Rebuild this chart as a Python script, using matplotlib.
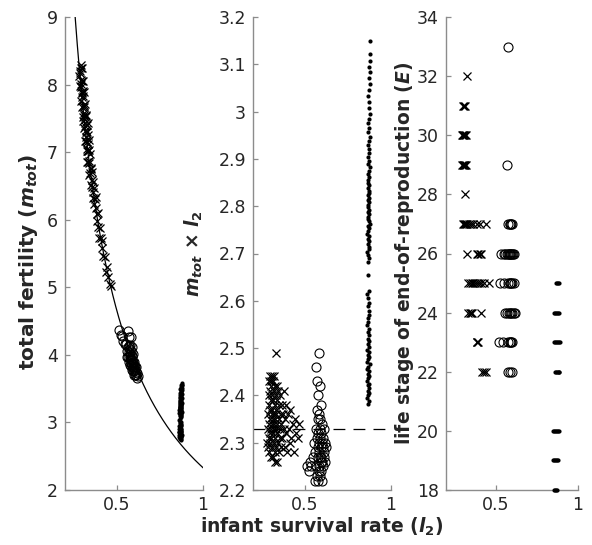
import matplotlib
matplotlib.use("Agg")
import matplotlib.pyplot as plt
import numpy as np
from matplotlib.ticker import FuncFormatter, FixedLocator

# ---------------- data ----------------
mprod_ref = 2.33  # threshold m_tot x l2

# crosses: infant survival l2 and m_tot*l2
cross_l2 = [0.283, 0.285, 0.287, 0.288, 0.290, 0.291, 0.292, 0.293, 0.294, 0.295,
            0.296, 0.297, 0.298, 0.299, 0.300, 0.301, 0.302, 0.303, 0.304, 0.305,
            0.306, 0.307, 0.308, 0.309, 0.310, 0.311, 0.312, 0.313, 0.314, 0.315,
            0.316, 0.317, 0.318, 0.319, 0.320, 0.321, 0.322, 0.323, 0.324, 0.325,
            0.326, 0.327, 0.328, 0.329, 0.330, 0.331, 0.332, 0.333, 0.334, 0.335,
            0.336, 0.337, 0.338, 0.339, 0.340, 0.342, 0.344, 0.346, 0.348, 0.350,
            0.352, 0.354, 0.356, 0.358, 0.360, 0.362, 0.365, 0.368, 0.371, 0.374,
            0.377, 0.380, 0.383, 0.386, 0.390, 0.394, 0.398, 0.402, 0.407, 0.412,
            0.417, 0.423, 0.429, 0.436, 0.443, 0.450, 0.458, 0.466]
cross_mp = [2.30, 2.33, 2.29, 2.36, 2.31, 2.40, 2.34, 2.43, 2.28, 2.38,
            2.44, 2.32, 2.35, 2.41, 2.30, 2.37, 2.43, 2.33, 2.27, 2.39,
            2.42, 2.31, 2.36, 2.44, 2.34, 2.29, 2.40, 2.37, 2.32, 2.43,
            2.35, 2.27, 2.39, 2.33, 2.41, 2.30, 2.36, 2.44, 2.34, 2.28,
            2.38, 2.42, 2.31, 2.35, 2.26, 2.40, 2.33, 2.37, 2.29, 2.49,
            2.36, 2.42, 2.32, 2.26, 2.39, 2.34, 2.30, 2.41, 2.35, 2.28,
            2.38, 2.33, 2.31, 2.40, 2.36, 2.29, 2.34, 2.38, 2.31, 2.36,
            2.33, 2.41, 2.29, 2.35, 2.38, 2.32, 2.28, 2.36, 2.33, 2.30,
            2.37, 2.31, 2.34, 2.28, 2.35, 2.32, 2.31, 2.34]

# circles
circ_l2 = [0.515, 0.522, 0.528, 0.535, 0.545, 0.552, 0.560, 0.562, 0.565, 0.567,
           0.568, 0.570, 0.571, 0.572, 0.573, 0.574, 0.575, 0.576, 0.577, 0.578,
           0.579, 0.580, 0.581, 0.582, 0.583, 0.584, 0.585, 0.586, 0.587, 0.588,
           0.589, 0.590, 0.591, 0.592, 0.593, 0.594, 0.595, 0.596, 0.597, 0.598,
           0.599, 0.600, 0.601, 0.603, 0.605, 0.607, 0.609, 0.611, 0.613, 0.616,
           0.619, 0.622]
circ_mp = [2.25, 2.24, 2.26, 2.25, 2.27, 2.30, 2.22, 2.28, 2.46, 2.33,
           2.25, 2.43, 2.31, 2.23, 2.37, 2.27, 2.35, 2.29, 2.22, 2.40,
           2.32, 2.25, 2.36, 2.28, 2.49, 2.30, 2.24, 2.33, 2.27, 2.42,
           2.31, 2.23, 2.35, 2.26, 2.29, 2.38, 2.32, 2.24, 2.27, 2.30,
           2.22, 2.34, 2.26, 2.29, 2.31, 2.25, 2.28, 2.33, 2.27, 2.30,
           2.26, 2.29]

# dots
dot_l2 = [0.866, 0.872, 0.861, 0.869, 0.875, 0.864, 0.870, 0.867, 0.873, 0.862,
          0.868, 0.874, 0.865, 0.871, 0.860, 0.868, 0.876, 0.863, 0.869, 0.872,
          0.866, 0.874, 0.862, 0.870, 0.867, 0.875, 0.864, 0.871, 0.868, 0.873,
          0.863, 0.869, 0.866, 0.874, 0.870, 0.865, 0.872, 0.868, 0.862, 0.871,
          0.869,
          0.866, 0.873, 0.868, 0.862, 0.871, 0.875, 0.865, 0.870, 0.867, 0.874,
          0.863, 0.869, 0.872, 0.866, 0.876, 0.870, 0.864, 0.868, 0.873, 0.867,
          0.871, 0.865, 0.869, 0.874, 0.868, 0.872, 0.866, 0.870, 0.875, 0.867,
          0.871, 0.864, 0.869, 0.873, 0.866, 0.870, 0.876, 0.868, 0.872, 0.865,
          0.870, 0.874, 0.867, 0.871, 0.877, 0.869, 0.873, 0.866, 0.872, 0.876,
          0.870, 0.875, 0.868, 0.874, 0.879, 0.872, 0.877, 0.870, 0.876, 0.880,
          0.878]
dot_mp = [2.381, 2.388, 2.394, 2.401, 2.405, 2.410, 2.416, 2.421, 2.425, 2.431,
          2.436, 2.440, 2.446, 2.451, 2.455, 2.461, 2.466, 2.470, 2.476, 2.481,
          2.486, 2.492, 2.497, 2.503, 2.508, 2.514, 2.520, 2.527, 2.533, 2.540,
          2.548, 2.556, 2.563, 2.571, 2.579, 2.588, 2.596, 2.605, 2.614, 2.620,
          2.655,
          2.683, 2.690, 2.697, 2.703, 2.709, 2.714, 2.720, 2.726, 2.731, 2.737,
          2.742, 2.748, 2.753, 2.758, 2.763, 2.768, 2.773, 2.778, 2.783, 2.788,
          2.793, 2.798, 2.803, 2.808, 2.813, 2.818, 2.823, 2.828, 2.833, 2.838,
          2.844, 2.850, 2.856, 2.862, 2.868, 2.875, 2.882, 2.889, 2.896, 2.904,
          2.912, 2.920, 2.929, 2.938, 2.947, 2.956, 2.965, 2.975, 2.985, 2.995,
          3.008, 3.020, 3.034, 3.045, 3.058, 3.070, 3.083, 3.095, 3.108, 3.122,
          3.150]

# panel 3: end-of-reproduction stage E
e_cross_l2 = [0.330,
              0.305, 0.312, 0.318,
              0.296, 0.301, 0.306, 0.311, 0.316, 0.321,
              0.296, 0.301, 0.307, 0.312, 0.318, 0.323,
              0.317,
              0.305, 0.310, 0.315, 0.320, 0.330, 0.340, 0.350, 0.365, 0.385, 0.405, 0.440,
              0.330, 0.385, 0.395, 0.405, 0.410,
              0.335, 0.345, 0.355, 0.365, 0.375, 0.385, 0.400, 0.415, 0.430, 0.460,
              0.335, 0.345, 0.350, 0.355, 0.415,
              0.385, 0.390, 0.395,
              0.420, 0.430, 0.440]
e_cross_E = [32,
             31, 31, 31,
             30, 30, 30, 30, 30, 30,
             29, 29, 29, 29, 29, 29,
             28,
             27, 27, 27, 27, 27, 27, 27, 27, 27, 27, 27,
             26, 26, 26, 26, 26,
             25, 25, 25, 25, 25, 25, 25, 25, 25, 25,
             24, 24, 24, 24, 24,
             23, 23, 23,
             22, 22, 22]
e_circ_l2 = [0.575,
             0.572,
             0.575, 0.585, 0.590, 0.595, 0.600,
             0.535, 0.550, 0.560, 0.570, 0.575, 0.580, 0.585, 0.590, 0.595, 0.600, 0.605, 0.610,
             0.525, 0.550, 0.575, 0.585, 0.590, 0.595, 0.600, 0.615,
             0.555, 0.570, 0.580, 0.590, 0.595, 0.600, 0.610, 0.620,
             0.520, 0.545, 0.575, 0.585, 0.590, 0.595, 0.600,
             0.575, 0.590, 0.600]
e_circ_E = [33,
            29,
            27, 27, 27, 27, 27,
            26, 26, 26, 26, 26, 26, 26, 26, 26, 26, 26, 26,
            25, 25, 25, 25, 25, 25, 25, 25,
            24, 24, 24, 24, 24, 24, 24, 24,
            23, 23, 23, 23, 23, 23, 23,
            22, 22, 22]
e_dot_l2 = [0.866, 0.872, 0.878, 0.884,
            0.856, 0.862, 0.868, 0.874, 0.880, 0.886,
            0.853, 0.859, 0.865, 0.871, 0.877, 0.883, 0.888,
            0.858, 0.864, 0.870, 0.876, 0.882, 0.886,
            0.846, 0.852, 0.858, 0.864, 0.870, 0.876, 0.882,
            0.850, 0.856, 0.862, 0.868, 0.874, 0.879,
            0.852, 0.858, 0.864, 0.870]
e_dot_E = [25, 25, 25, 25,
           24, 24, 24, 24, 24, 24,
           23, 23, 23, 23, 23, 23, 23,
           22, 22, 22, 22, 22, 22,
           20, 20, 20, 20, 20, 20, 20,
           19, 19, 19, 19, 19, 19,
           18, 18, 18, 18]

x_ticks = [0.5, 1]
y1_ticks = [2, 3, 4, 5, 6, 7, 8, 9]
y2_ticks = [2.2, 2.3, 2.4, 2.5, 2.6, 2.7, 2.8, 2.9, 3.0, 3.1, 3.2]
y3_ticks = [18, 20, 22, 24, 26, 28, 30, 32, 34]

# ---------------- style ----------------
plt.rcParams['font.family'] = ['DejaVu Sans']
plt.rcParams['mathtext.fontset'] = 'custom'
plt.rcParams['mathtext.it'] = 'DejaVu Sans:italic:bold'
plt.rcParams['mathtext.rm'] = 'DejaVu Sans:bold'
plt.rcParams['mathtext.bf'] = 'DejaVu Sans:bold'

TXT = '#262626'
SPN = '#8c8c8c'
TICK_FS = 12.5
LAB_FS = 13.5

fig = plt.figure(figsize=(5.92, 5.45), dpi=100)
W, H = 592.0, 545.0
top_px, bot_px = 17.0, 490.0
b = (H - bot_px) / H
h = (bot_px - top_px) / H
ax1 = fig.add_axes([65 / W, b, 138 / W, h])
ax2 = fig.add_axes([253 / W, b, 138 / W, h])
ax3 = fig.add_axes([446 / W, b, 132 / W, h])

fmt = FuncFormatter(lambda v, p: '%g' % round(v, 6))

for ax in (ax1, ax2, ax3):
    for s in ('top', 'right'):
        ax.spines[s].set_visible(False)
    for s in ('left', 'bottom'):
        ax.spines[s].set_color(SPN)
        ax.spines[s].set_linewidth(1.0)
    ax.tick_params(direction='in', length=3.5, width=0.9, color=SPN,
                   labelcolor=TXT, labelsize=TICK_FS, pad=5)
    ax.tick_params(axis='x', pad=4)
    ax.set_xlim(0.2, 1)
    ax.xaxis.set_major_locator(FixedLocator(x_ticks))
    ax.xaxis.set_major_formatter(fmt)
    ax.yaxis.set_major_formatter(fmt)

cross_kw = dict(ls='none', marker='x', ms=6.2, mew=0.9, color='k', clip_on=False, zorder=3)
circ_kw = dict(ls='none', marker='o', ms=6.5, mew=0.8, mfc='none', mec='k', clip_on=False, zorder=3)
dot_kw = dict(ls='none', marker='o', ms=3.0, mew=0, mfc='k', clip_on=False, zorder=3)

cl2 = np.array(cross_l2); cmp_ = np.array(cross_mp)
ol2 = np.array(circ_l2); omp = np.array(circ_mp)
dl2 = np.array(dot_l2); dmp = np.array(dot_mp)

# panel 1: total fertility
ax1.set_ylim(2, 9)
ax1.yaxis.set_major_locator(FixedLocator(y1_ticks))
curve_l2 = np.linspace(mprod_ref / 9.0, 1.0, 300)
ax1.plot(curve_l2, mprod_ref / curve_l2, color='k', lw=0.9, zorder=2)
ax1.plot(cl2, cmp_ / cl2, **cross_kw)
ax1.plot(ol2, omp / ol2, **circ_kw)
ax1.plot(dl2, dmp / dl2, **dot_kw)

# panel 2: m_tot x l2
ax2.set_ylim(2.2, 3.2)
ax2.yaxis.set_major_locator(FixedLocator(y2_ticks))
ax2.axhline(mprod_ref, color='k', lw=0.9, ls=(0, (9.5, 6.5)), zorder=2)
ax2.plot(cl2, cmp_, **cross_kw)
ax2.plot(ol2, omp, **circ_kw)
ax2.plot(dl2, dmp, **dot_kw)

# panel 3: end of reproduction
ax3.set_ylim(18, 34)
ax3.yaxis.set_major_locator(FixedLocator(y3_ticks))
ax3.plot(e_cross_l2, e_cross_E, **cross_kw)
ax3.plot(e_circ_l2, e_circ_E, **circ_kw)
ax3.plot(e_dot_l2, e_dot_E, **dot_kw)

# labels
yc = 1 - 253.5 / H
fig.text(29 / W, 1 - 262 / H, r'total fertility ($m_{tot}$)', rotation=90, ha='center', va='center',
         fontsize=14.5, fontweight='bold', color=TXT)
fig.text(194 / W, yc, r'$m_{tot}$ $\times$ $l_2$', rotation=90, ha='center', va='center',
         fontsize=LAB_FS, fontweight='bold', color=TXT)
fig.text(405 / W, yc, r'life stage of end-of-reproduction ($E$)', rotation=90,
         ha='center', va='center', fontsize=LAB_FS, fontweight='bold', color=TXT)
fig.text(322 / W, 1 - 527 / H, r'infant survival rate ($l_2$)', ha='center', va='center',
         fontsize=LAB_FS, fontweight='bold', color=TXT)

fig.savefig('out.png', dpi=100)
